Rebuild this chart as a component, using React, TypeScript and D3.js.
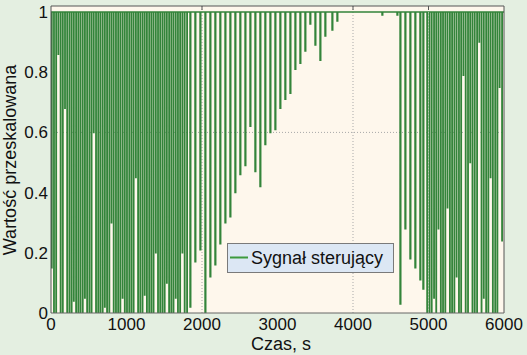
import { useMemo } from "react";
import * as d3 from "d3";

const W = 527;
const H = 355;

const xTicks = [0, 1000, 2000, 3000, 4000, 5000, 6000];
const yTicks = [0, 0.2, 0.4, 0.6, 0.8, 1];
const yTickLabels = ["0", "0.2", "0.4", "0.6", "0.8", "1"];
const xGrid = [2000, 4000, 5000];
const yGrid = [0.6];

// dense switching at the start
const leftDipTimes = [8, 37, 66, 95, 125, 154, 183, 212, 242, 271, 300, 330, 359, 388, 418, 447, 476, 506, 535, 564, 594, 623, 652, 682, 711, 740, 770, 799, 828, 858, 887, 916, 946, 975, 1004, 1034, 1063, 1092, 1122, 1151, 1180, 1210, 1239, 1268, 1298, 1327, 1356, 1386, 1415, 1444, 1474, 1503, 1532, 1562, 1591, 1620, 1650, 1679, 1708, 1738, 1768, 1800];
const leftDipValues = [0.15, 0, 0, 0.86, 0, 0, 0.68, 0, 0, 0, 0.04, 0, 0, 0, 0, 0.05, 0, 0, 0, 0.6, 0, 0, 0, 0, 0.02, 0, 0, 0.3, 0, 0, 0, 0, 0.05, 0, 0, 0, 0, 0, 0.45, 0, 0, 0, 0.06, 0, 0, 0, 0, 0.2, 0, 0, 0, 0, 0.1, 0, 0, 0, 0.05, 0, 0, 0.2, 0, 0];

// dips getting shallower
const midDipTimes = [1841, 1907, 1974, 2040, 2106, 2172, 2238, 2305, 2371, 2437, 2503, 2570, 2636, 2702, 2768, 2834, 2901, 2967, 3033, 3099, 3166, 3232, 3298, 3364, 3430, 3497, 3563, 3629, 3722, 3788, 4384, 4583, 4623, 4689, 4755, 4821, 4887, 4927];
const midDipValues = [0.02, 0.17, 0.21, 0, 0.12, 0.16, 0.23, 0.3, 0.32, 0.4, 0.46, 0.49, 0.62, 0.47, 0.42, 0.56, 0.6, 0.61, 0.68, 0.71, 0.73, 0.81, 0.83, 0.87, 0.96, 0.89, 0.84, 0.92, 0.94, 0.97, 0.99, 0.99, 0.03, 0.28, 0.18, 0.15, 0.11, 0.08];

// dense switching at the end
const rightDipTimes = [4980, 5010, 5040, 5071, 5100, 5130, 5161, 5190, 5220, 5250, 5281, 5310, 5340, 5370, 5401, 5430, 5460, 5490, 5521, 5550, 5580, 5610, 5641, 5670, 5700, 5730, 5761, 5790, 5820, 5850, 5881, 5910, 5940, 5972];
const rightDipValues = [0, 0, 0, 0.05, 0, 0.28, 0, 0, 0, 0.35, 0, 0, 0, 0.12, 0, 0, 0.79, 0, 0, 0.5, 0, 0, 0, 0.9, 0, 0.05, 0, 0, 0.45, 0, 0, 0, 0.75, 0.24];

const DENSE_DIP_WIDTH = 5;
const MID_DIP_WIDTH = 10;
const LINE_COLOR = "#33843a";

type Pt = [number, number];

function dipPoints(times: number[], values: number[], w: number): Pt[] {
  const pts: Pt[] = [];
  times.forEach((t, i) => {
    pts.push([t, 1], [t, values[i]], [t + w, values[i]], [t + w, 1]);
  });
  return pts;
}

export default function App() {
  const margin = { left: 51, right: 504, top: 6, bottom: 313 };
  const x = d3.scaleLinear().domain([0, 6000]).range([margin.left, margin.right]);
  const y = d3.scaleLinear().domain([0, 1.02]).range([margin.bottom, margin.top]);

  const line = d3
    .line<Pt>()
    .x((d) => x(d[0]))
    .y((d) => y(d[1]));

  const signalPath = useMemo(() => {
    const pts: Pt[] = [[0, 1]];
    pts.push(...dipPoints(leftDipTimes, leftDipValues, DENSE_DIP_WIDTH));
    pts.push(...dipPoints(midDipTimes, midDipValues, MID_DIP_WIDTH));
    pts.push(...dipPoints(rightDipTimes, rightDipValues, DENSE_DIP_WIDTH));
    pts.push([6000, 1]);
    return line(pts) ?? "";
  }, []);

  const font = "'Liberation Sans', Arial, sans-serif";

  return (
    <div style={{ position: "absolute", left: 0, top: 0 }}>
      <svg width={W} height={H} style={{ display: "block" }}>
        <rect x={0} y={0} width={W} height={H} fill="#e4efe1" />
        <rect
          x={margin.left}
          y={margin.top}
          width={margin.right - margin.left}
          height={margin.bottom - margin.top}
          fill="#fef7ec"
        />
        <defs>
          <clipPath id="plot">
            <rect
              x={margin.left}
              y={margin.top}
              width={margin.right - margin.left}
              height={margin.bottom - margin.top}
            />
          </clipPath>
        </defs>

        <g clipPath="url(#plot)">
          {xGrid.map((v) => (
            <line
              key={v}
              x1={x(v)}
              x2={x(v)}
              y1={margin.top}
              y2={margin.bottom}
              stroke="#a9a9a9"
              strokeWidth={1}
              strokeDasharray="1,2"
            />
          ))}
          {yGrid.map((v) => (
            <line
              key={v}
              x1={margin.left}
              x2={margin.right}
              y1={y(v)}
              y2={y(v)}
              stroke="#a9a9a9"
              strokeWidth={1}
              strokeDasharray="1,2"
            />
          ))}
          <path d={signalPath} fill="none" stroke={LINE_COLOR} strokeWidth={1.45} />
          {/* grid shows faintly through the dense switching */}
          <line
            x1={x(5000)}
            x2={x(5000)}
            y1={margin.top}
            y2={margin.bottom}
            stroke="#e6f0dc"
            strokeOpacity={0.6}
            strokeWidth={1}
            strokeDasharray="1,2"
          />
        </g>

        {/* frame */}
        <line x1={margin.left} x2={margin.right} y1={margin.top} y2={margin.top} stroke="#555" />
        <line x1={margin.right} x2={margin.right} y1={margin.top} y2={margin.bottom} stroke="#555" />
        <line x1={margin.left} x2={margin.right} y1={margin.bottom} y2={margin.bottom} stroke="#666" />
        <line x1={margin.left} x2={margin.left} y1={margin.top} y2={margin.bottom} stroke="#555" />
        {xGrid.map((v) => (
          <line key={"t" + v} x1={x(v)} x2={x(v)} y1={margin.top} y2={margin.top + 4} stroke="#555" />
        ))}

        {/* tick labels */}
        {xTicks.map((v) => (
          <text
            key={v}
            x={x(v)}
            y={330}
            textAnchor="middle"
            fontFamily={font}
            fontSize={17}
            fill="#111"
          >
            {v}
          </text>
        ))}
        {yTicks.map((v, i) => (
          <text
            key={v}
            x={48}
            y={y(v) + 6}
            textAnchor="end"
            fontFamily={font}
            fontSize={17}
            fill="#111"
          >
            {yTickLabels[i]}
          </text>
        ))}

        <text x={281} y={350} textAnchor="middle" fontFamily={font} fontSize={18} fill="#111">
          Czas, s
        </text>
        <text
          transform={`translate(16,160) rotate(-90)`}
          textAnchor="middle"
          fontFamily={font}
          fontSize={18}
          fill="#111"
        >
          Wartość przeskalowana
        </text>

        {/* legend */}
        <rect x={227.5} y={243.5} width={166} height={29} fill="#dce7f4" stroke="#7a7a7a" />
        <line x1={230} x2={248} y1={257.5} y2={257.5} stroke="#3d9a3d" strokeWidth={2} />
        <text x={251} y={264} fontFamily={font} fontSize={18} fill="#111">
          Sygnał sterujący
        </text>
      </svg>
    </div>
  );
}
